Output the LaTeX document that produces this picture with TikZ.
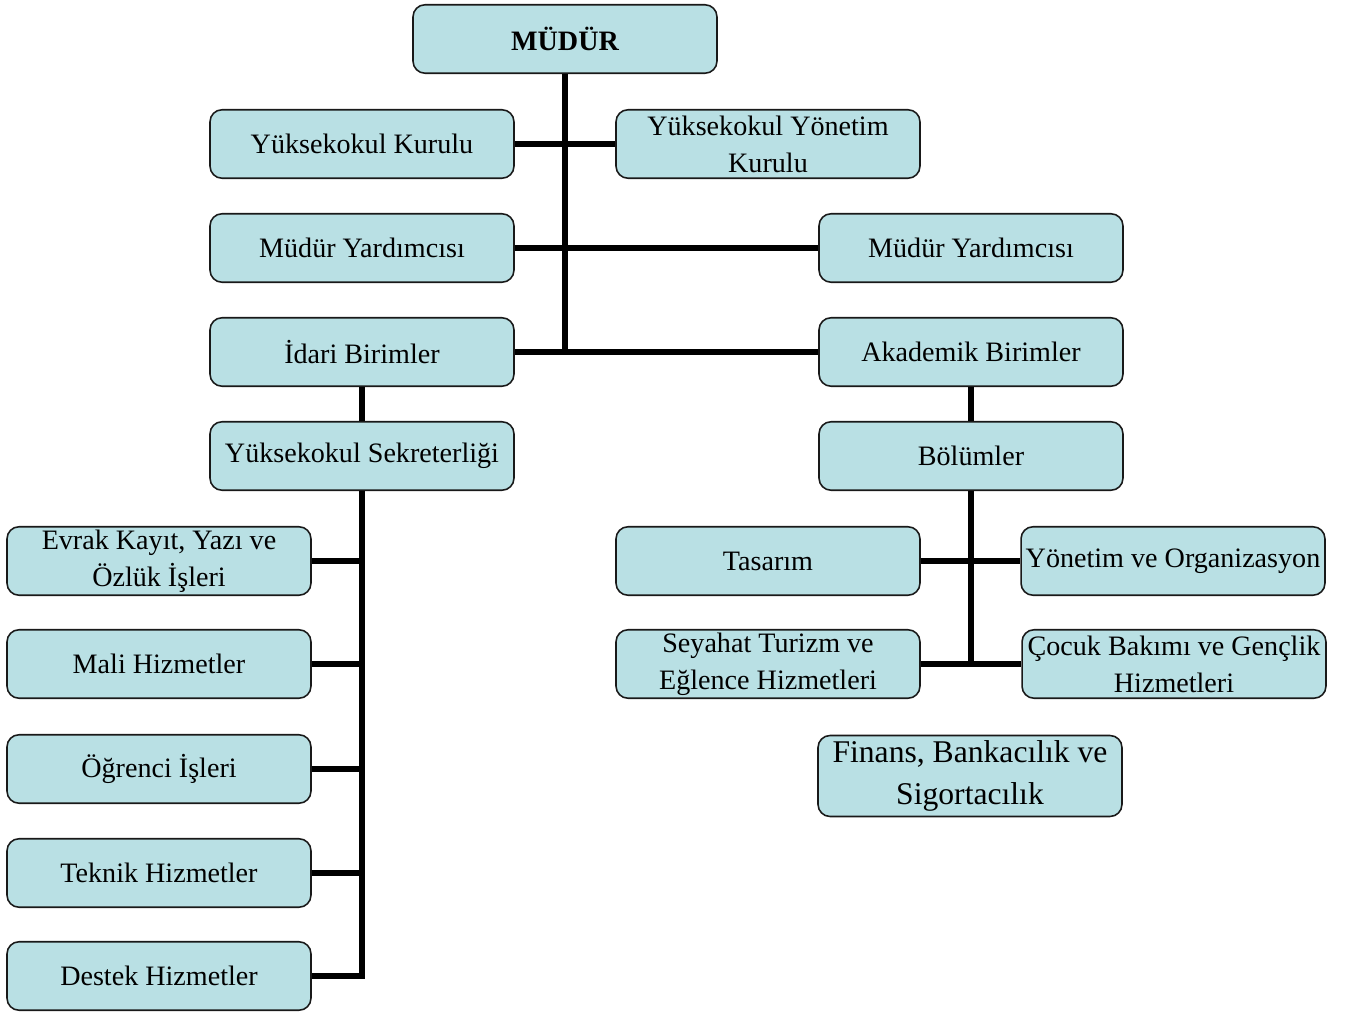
\documentclass[tikz,border=0pt]{standalone}
\usepackage{fontspec}
\setmainfont{Liberation Serif}
\usetikzlibrary{positioning}

\definecolor{boxfill}{RGB}{185,224,228}

\begin{document}
\begin{tikzpicture}[x=0.02cm,y=-0.02cm,
    % box style for every unit of the chart
    unit/.style={draw=black!90,line width=0.9pt,fill=boxfill,rounded corners=0.24cm,
      minimum width=6.08cm,minimum height=1.37cm,align=center,inner sep=1pt,
      font=\fontsize{16}{21}\selectfont},
    link/.style={line width=3.4pt}]

  \useasboundingbox (0,0) rectangle (1346,1016);

  % top of the chart
  \node[unit,font=\fontsize{16}{21}\selectfont\bfseries] (mudur) at (565,39) {MÜDÜR};
  \node[unit] (ykk)   at (362,144) {Yüksekokul Kurulu};
  \node[unit] (yyk)   at (768,144) {Yüksekokul Yönetim\\Kurulu};
  \node[unit] (myl)   at (362,248) {Müdür Yardımcısı};
  \node[unit] (myr)   at (971,248) {Müdür Yardımcısı};
  \node[unit] (idari) at (362,352) {İdari Birimler};
  \node[unit] (akad)  at (971,352) {Akademik Birimler};

  % left branch
  \node[unit] (sek)    at (362,456) {Yüksekokul Sekreterliği};
  \node[unit] (evrak)  at (159,561) {Evrak Kayıt, Yazı ve\\Özlük İşleri};
  \node[unit] (mali)   at (159,664) {Mali Hizmetler};
  \node[unit] (ogr)    at (159,769) {Öğrenci İşleri};
  \node[unit] (teknik) at (159,873) {Teknik Hizmetler};
  \node[unit] (destek) at (159,976) {Destek Hizmetler};

  % right branch
  \node[unit] (bol)     at (971,456) {Bölümler};
  \node[unit] (tasarim) at (768,561) {Tasarım};
  \node[unit] (yonetim) at (1173,561) {Yönetim ve Organizasyon};
  \node[unit] (seyahat) at (768,664) {Seyahat Turizm ve\\Eğlence Hizmetleri};
  \node[unit] (cocuk)   at (1174,664) {Çocuk Bakımı ve Gençlik\\Hizmetleri};
  \node[unit,minimum height=1.62cm,font=\fontsize{18}{24}\selectfont] (finans) at (970,776)
    {Finans, Bankacılık ve\\Sigortacılık};

  % connectors
  \draw[link] (mudur.south) -- (mudur.south |- idari.east);
  \draw[link] (ykk.east) -- (yyk.west);
  \draw[link] (myl.east) -- (myr.west);
  \draw[link] (idari.east) -- (akad.west);
  \draw[link] (idari.south) -- (sek.north);
  \draw[link] (akad.south) -- (bol.north);

  \draw[link] (sek.south) |- (destek.east);
  \foreach \u in {evrak,mali,ogr,teknik}
    \draw[link] (\u.east) -- (\u.east -| sek.south);

  \draw[link] (bol.south) -- (bol.south |- seyahat.east);
  \draw[link] (tasarim.east) -- (yonetim.west);
  \draw[link] (seyahat.east) -- (cocuk.west);

\end{tikzpicture}
\end{document}
